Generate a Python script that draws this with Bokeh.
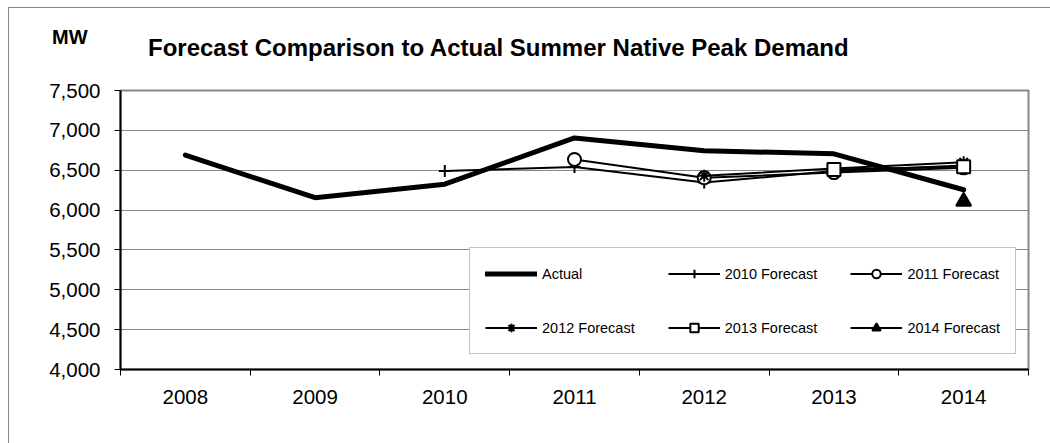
from bokeh.plotting import figure
from bokeh.layouts import column
from bokeh.models import (FixedTicker, NumeralTickFormatter, Legend, LegendItem,
                          Div, Range1d)
from bokeh.embed import file_html
from bokeh.resources import INLINE

# Summer native peak demand (MW): actual values and each year's forecast
years = [2008, 2009, 2010, 2011, 2012, 2013, 2014]
actual = [6690, 6155, 6325, 6905, 6745, 6705, 6255]

fc2010_years = [2010, 2011, 2012, 2013, 2014]
fc2010 = [6490, 6540, 6345, 6490, 6560]

fc2011_years = [2011, 2012, 2013, 2014]
fc2011 = [6635, 6405, 6470, 6530]

fc2012_years = [2012, 2013, 2014]
fc2012 = [6430, 6520, 6600]

fc2013_years = [2013, 2014]
fc2013 = [6510, 6545]

fc2014_years = [2014]
fc2014 = [6110]

y_ticks = [4000, 4500, 5000, 5500, 6000, 6500, 7000, 7500]

title_text = "Forecast Comparison to Actual Summer Native Peak Demand"
unit_text = "MW"

FONT = "Liberation Sans"
GRID = "#878787"

HEADER_H = 60

# heading row: unit label at the left, chart title beside it
header = Div(
    text=(
        f'<div style="position:relative;width:1041px;height:{HEADER_H}px;'
        f'font-family:\'{FONT}\';font-weight:bold;color:black;line-height:1;">'
        f'<span style="position:absolute;left:43px;top:19px;font-size:20px;'
        f'white-space:nowrap;">{unit_text}</span>'
        f'<span style="position:absolute;left:139px;top:28px;font-size:24px;'
        f'white-space:nowrap;">{title_text}</span>'
        f'</div>'
    ),
    width=1041, height=HEADER_H, margin=0,
)

p = figure(width=1041, height=435 - HEADER_H,
           x_range=Range1d(2007.5, 2014.5), y_range=Range1d(4000, 7500),
           output_backend="svg", toolbar_location=None,
           min_border_left=111, min_border_right=22,
           min_border_top=82 - HEADER_H, min_border_bottom=74, margin=0)
p.background_fill_color = "white"
p.border_fill_color = "white"
p.outline_line_color = GRID
p.outline_line_width = 2

# axes
p.yaxis.ticker = FixedTicker(ticks=y_ticks)
p.yaxis.formatter = NumeralTickFormatter(format="0,0")
p.yaxis.major_label_text_font = FONT
p.yaxis.major_label_text_font_size = "20.5px"
p.yaxis.major_label_text_color = "black"
p.yaxis.axis_line_width = 2
p.yaxis.axis_line_color = "black"
p.yaxis.major_tick_out = 6
p.yaxis.major_tick_in = 0
p.yaxis.minor_tick_out = 0
p.yaxis.minor_tick_in = 0
p.yaxis.major_label_standoff = 14

boundaries = [y - 0.5 for y in years] + [years[-1] + 0.5]
p.xaxis.ticker = FixedTicker(ticks=years, minor_ticks=boundaries)
p.xaxis.formatter = NumeralTickFormatter(format="0")
p.xaxis.major_label_text_font = FONT
p.xaxis.major_label_text_font_size = "20.5px"
p.xaxis.major_label_text_color = "black"
p.xaxis.axis_line_width = 2
p.xaxis.axis_line_color = "black"
p.xaxis.major_tick_out = 0
p.xaxis.major_tick_in = 0
p.xaxis.minor_tick_out = 6
p.xaxis.minor_tick_in = 0
p.xaxis.minor_tick_line_color = "black"
p.xaxis.major_label_standoff = 14

p.xgrid.grid_line_color = None
p.ygrid.grid_line_color = GRID
p.ygrid.grid_line_width = 1

# series
r_actual = p.line(years, actual, line_width=5, color="black",
                  line_join="round", line_cap="round")

items = [LegendItem(label="Actual", renderers=[r_actual])]

series = [
    ("2010 Forecast", fc2010_years, fc2010, "cross", 12, "black"),
    ("2011 Forecast", fc2011_years, fc2011, "circle", 13, "white"),
    ("2012 Forecast", fc2012_years, fc2012, "asterisk", 12, "white"),
    ("2013 Forecast", fc2013_years, fc2013, "square", 13, "white"),
    ("2014 Forecast", fc2014_years, fc2014, "triangle", 15, "black"),
]
for label, xs, ys, marker, size, fill in series:
    rl = p.line(xs, ys, line_width=2, color="black")
    rm = p.scatter(xs, ys, marker=marker, size=size, line_color="black",
                   line_width=2, fill_color=fill)
    items.append(LegendItem(label=label, renderers=[rl, rm]))

legend = Legend(items=items, location=(349, 15), orientation="horizontal", ncols=3,
                label_text_font=FONT, label_text_font_size="14.5px",
                label_text_color="black",
                glyph_width=52, glyph_height=21, label_height=21, label_width=92,
                label_standoff=5, spacing=33, padding=15, margin=0,
                border_line_color=GRID, border_line_width=1,
                background_fill_color="white", background_fill_alpha=1)
p.add_layout(legend, "center")

page = column(header, p, spacing=0, margin=0)
page.styles = {"margin-left": "8px", "margin-top": "7px",
               "border-left": f"1px solid {GRID}", "border-top": f"1px solid {GRID}",
               "background-color": "white"}

open("out.html", "w").write(file_html(page, INLINE))
